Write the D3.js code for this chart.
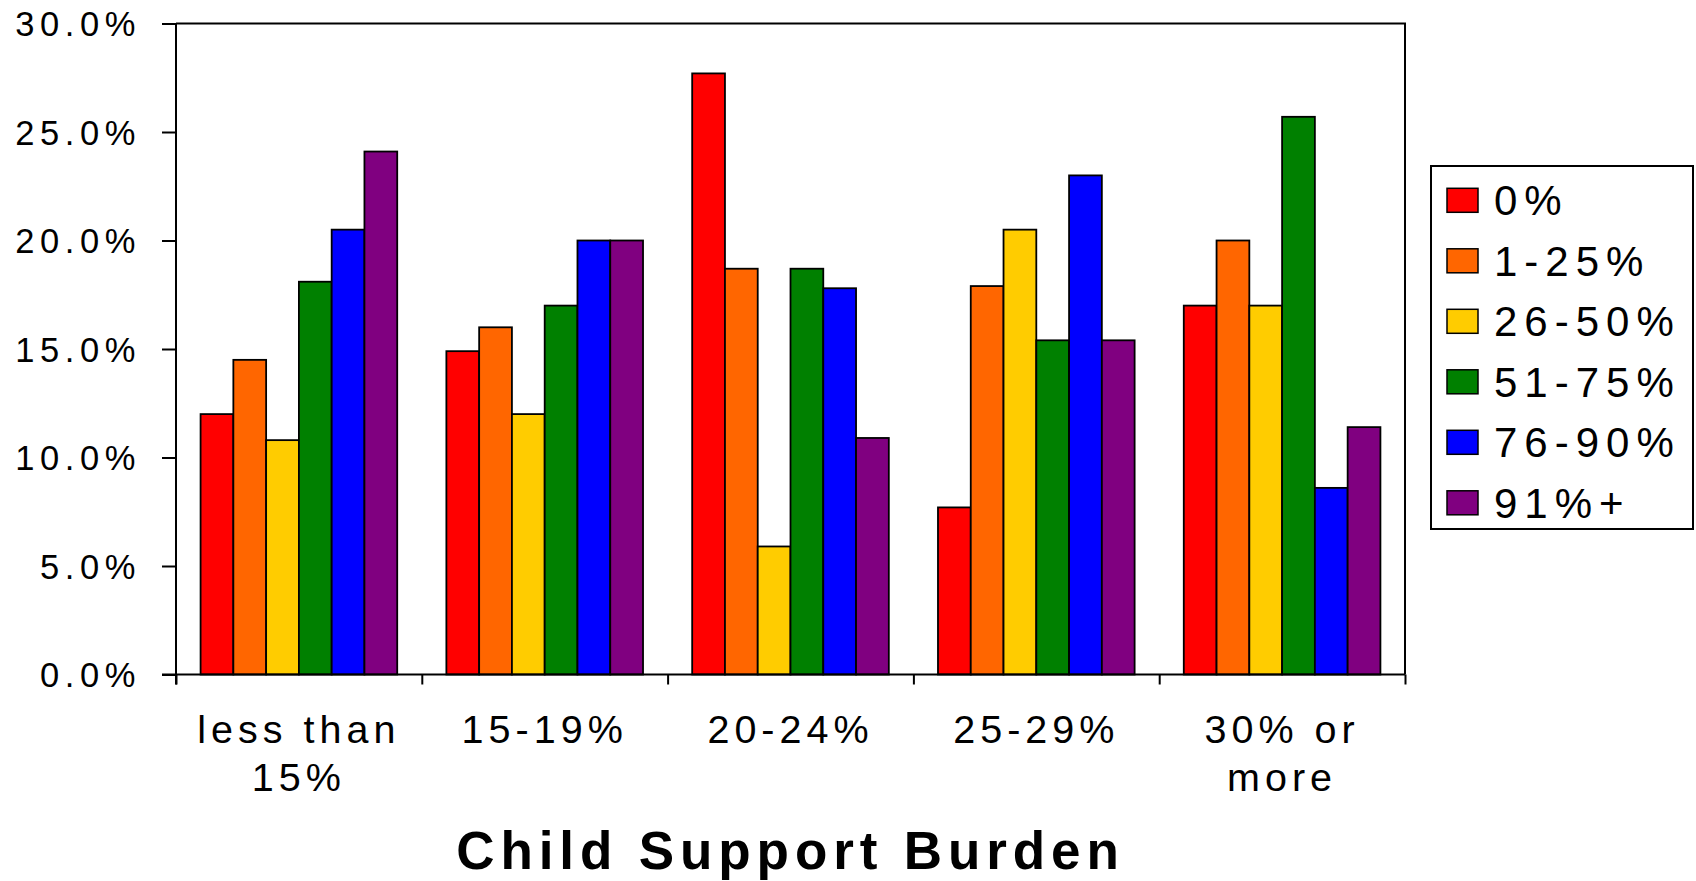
<!DOCTYPE html>
<html>
<head>
<meta charset="utf-8">
<script src="https://cdn.jsdelivr.net/npm/d3@7/dist/d3.min.js"></script>
<style>
  html, body { margin: 0; padding: 0; background: #fff; }
  svg { display: block; font-family: "Liberation Sans", Arial, sans-serif; }
</style>
</head>
<body>
<svg id="chart" width="1696" height="881"></svg>
<script>
// Share of cases by child support burden, split by compliance group
const categories = ["less than 15%", "15-19%", "20-24%", "25-29%", "30% or more"];
const categoryLines = [["less than", "15%"], ["15-19%"], ["20-24%"], ["25-29%"], ["30% or", "more"]];
const seriesNames = ["0%", "1-25%", "26-50%", "51-75%", "76-90%", "91%+"];
const seriesColors = ["#FF0000", "#FF6600", "#FFCC00", "#008000", "#0000FF", "#800080"];

const pct0 = [12.0, 14.9, 27.7, 7.7, 17.0];
const pct1to25 = [14.5, 16.0, 18.7, 17.9, 20.0];
const pct26to50 = [10.8, 12.0, 5.9, 20.5, 17.0];
const pct51to75 = [18.1, 17.0, 18.7, 15.4, 25.7];
const pct76to90 = [20.5, 20.0, 17.8, 23.0, 8.6];
const pct91plus = [24.1, 20.0, 10.9, 15.4, 11.4];
const seriesValues = [pct0, pct1to25, pct26to50, pct51to75, pct76to90, pct91plus];

const yTicks = [0, 5, 10, 15, 20, 25, 30];
const xTitle = "Child Support Burden";

const svg = d3.select("#chart");
const plot = { left: 176, right: 1405, top: 23.5, bottom: 674.5 };

const x0 = d3.scaleBand()
  .domain(categories)
  .range([plot.left, plot.right])
  .paddingInner(0.2)
  .paddingOuter(0.1);

const x1 = d3.scaleBand()
  .domain(seriesNames)
  .range([0, x0.bandwidth()]);

const y = d3.scaleLinear()
  .domain([0, 30])
  .range([plot.bottom, plot.top]);

const color = d3.scaleOrdinal().domain(seriesNames).range(seriesColors);

// plot frame: top and right edges
svg.append("path")
  .attr("d", `M${plot.left},${plot.top}H${plot.right}V${plot.bottom}`)
  .attr("fill", "none")
  .attr("stroke", "#000")
  .attr("stroke-width", 2);

// bars
const rows = categories.map((c, i) => ({
  cat: c,
  vals: seriesNames.map((s, j) => ({ s, v: seriesValues[j][i] }))
}));

svg.append("g")
  .selectAll("g")
  .data(rows)
  .join("g")
  .attr("transform", d => `translate(${x0(d.cat)},0)`)
  .selectAll("rect")
  .data(d => d.vals)
  .join("rect")
  .attr("x", d => x1(d.s))
  .attr("y", d => y(d.v))
  .attr("width", x1.bandwidth())
  .attr("height", d => y(0) - y(d.v))
  .attr("fill", d => color(d.s))
  .attr("stroke", "#000")
  .attr("stroke-width", 1.8);

// y axis
const yAxis = svg.append("g")
  .attr("transform", `translate(${plot.left},0)`)
  .call(d3.axisLeft(y).tickValues(yTicks).tickSize(14).tickFormat(d => d3.format(".1f")(d) + "%"));
yAxis.select(".domain").attr("d", `M0,${plot.top}V${plot.bottom + 10}`).attr("stroke-width", 2);
yAxis.selectAll(".tick line").attr("stroke-width", 2);
yAxis.selectAll(".tick text")
  .attr("x", -35)
  .attr("dy", "0.36em")
  .attr("font-size", 34.5)
  .attr("letter-spacing", 5.6)
  .attr("fill", "#000");

// x axis: baseline with ticks at category boundaries
const xAxisScale = d3.scaleLinear().domain([0, categories.length]).range([plot.left, plot.right]);
const xAxis = svg.append("g")
  .attr("transform", `translate(0,${plot.bottom})`)
  .call(d3.axisBottom(xAxisScale).tickValues(d3.range(categories.length + 1)).tickSize(10).tickFormat(""));
xAxis.select(".domain").attr("d", `M${plot.left - 14},0H${plot.right}`).attr("stroke-width", 2);
xAxis.selectAll(".tick line").attr("stroke-width", 2);

// category labels
const labelG = svg.append("g")
  .attr("font-size", 39.5)
  .attr("letter-spacing", 5)
  .attr("text-anchor", "middle")
  .attr("fill", "#000");
categories.forEach((c, i) => {
  const cx = x0(c) + x0.bandwidth() / 2;
  labelG.append("text")
    .attr("x", cx)
    .attr("y", 743)
    .selectAll("tspan")
    .data(categoryLines[i])
    .join("tspan")
    .attr("x", cx)
    .attr("dy", (d, k) => k === 0 ? 0 : 48)
    .text(d => d);
});

// axis title
svg.append("text")
  .attr("x", (plot.left + plot.right) / 2)
  .attr("y", 869)
  .attr("text-anchor", "middle")
  .attr("font-size", 53)
  .attr("font-weight", "bold")
  .attr("letter-spacing", 5.9)
  .text(xTitle);

// legend
const legend = svg.append("g");
legend.append("rect")
  .attr("x", 1431).attr("y", 166)
  .attr("width", 262).attr("height", 363)
  .attr("fill", "#fff")
  .attr("stroke", "#000")
  .attr("stroke-width", 2);
const item = legend.selectAll("g.item")
  .data(seriesNames)
  .join("g")
  .attr("class", "item")
  .attr("transform", (d, i) => `translate(1447,${200.3 + i * 60.5})`);
item.append("rect")
  .attr("x", 0).attr("y", -12)
  .attr("width", 31).attr("height", 24)
  .attr("fill", d => color(d))
  .attr("stroke", "#000")
  .attr("stroke-width", 1.5);
item.append("text")
  .attr("x", 47)
  .attr("y", 15)
  .attr("font-size", 42)
  .attr("letter-spacing", 7)
  .attr("fill", "#000")
  .text(d => d);
</script>
</body>
</html>
